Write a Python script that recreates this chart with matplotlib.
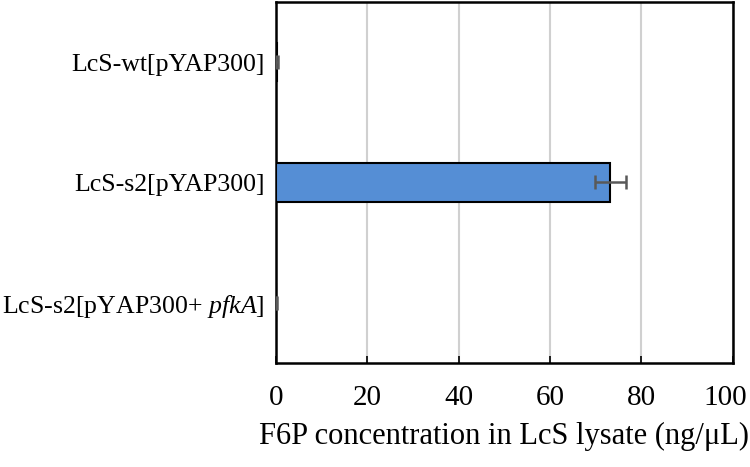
import matplotlib.pyplot as plt
from matplotlib.transforms import ScaledTranslation

plt.rcParams['font.family'] = 'Liberation Serif'
plt.rcParams['mathtext.fontset'] = 'custom'
plt.rcParams['mathtext.rm'] = 'Liberation Serif'
plt.rcParams['mathtext.it'] = 'Liberation Serif:italic'

# data
strains = ['LcS-wt[pYAP300]', 'LcS-s2[pYAP300]', r'LcS-s2[pYAP300+ $\it{pfkA}$]']
f6p = [0.2, 73.2, 0.1]
f6p_err = [0.3, 3.4, 0.2]

fig = plt.figure(figsize=(7.5, 4.67), dpi=100)
ax = fig.add_axes([0.368, 0.223, 0.609, 0.773])

ypos = list(range(len(strains)))
ax.barh(ypos, f6p, height=0.32, color='#558ED5', edgecolor='black', linewidth=1.5,
        xerr=f6p_err, error_kw=dict(ecolor='#595959', elinewidth=1.8, capsize=5, capthick=1.8),
        zorder=3)

ax.set_ylim(2.5, -0.5)
ax.set_xlim(0, 100)
ax.set_xticks([0, 20, 40, 60, 80, 100])
ax.set_yticks(ypos)
ax.set_yticklabels(strains, fontsize=18.6)
ax.tick_params(axis='x', labelsize=21, direction='in', length=5, width=1.2, pad=16)
ax.tick_params(axis='y', length=0, pad=8)
ax.grid(axis='x', color='#d0d0d0', linewidth=1.5, zorder=0)
for s in ax.spines.values():
    s.set_linewidth(1.8)
ax.set_xlabel('F6P concentration in LcS lysate (ng/\u03bcL)', fontsize=22, labelpad=8)

# keep the last tick label inside the canvas
last = ax.get_xticklabels()[-1]
last.set_transform(last.get_transform() + ScaledTranslation(-7 / 100, 0, fig.dpi_scale_trans))

plt.savefig('out.png', dpi=100)
